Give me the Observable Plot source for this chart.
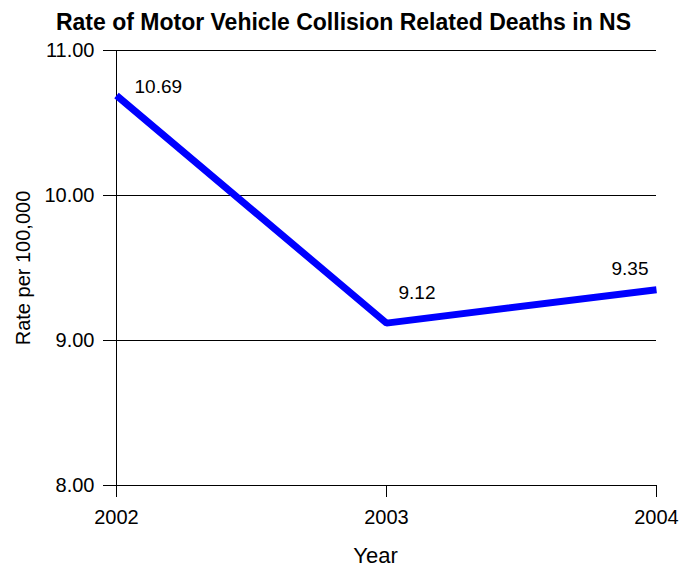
<!DOCTYPE html>
<html>
<head>
<meta charset="utf-8">
<script src="https://cdn.jsdelivr.net/npm/d3@7"></script>
<script src="https://cdn.jsdelivr.net/npm/@observablehq/plot@0.6"></script>
<style>
  html, body { margin: 0; padding: 0; background: #fff; }
  body { width: 687px; height: 569px; font-family: Arial, "Liberation Sans", sans-serif; overflow: hidden; }
  #title { height: 40px; line-height: 44px; text-align: center; font-weight: bold; font-size: 23px; color: #000; white-space: nowrap; }
</style>
</head>
<body>
<div id="title">Rate of Motor Vehicle Collision Related Deaths in NS</div>
<div id="chart"></div>
<script>
const years = [2002, 2003, 2004];
const rates = [10.69, 9.12, 9.35];
const yTicks = [8, 9, 10, 11];
const xLabel = "Year";
const yLabel = "Rate per 100,000";

const data = years.map((y, i) => ({year: y, rate: rates[i]}));
const fmt = d3.format(".2f");

const chart = Plot.plot({
  width: 687,
  height: 529,
  marginLeft: 116,
  marginRight: 31,
  marginTop: 10,
  marginBottom: 84,
  style: {fontFamily: "Arial, 'Liberation Sans', sans-serif", fontSize: "20px", color: "#000", background: "#fff"},
  x: {domain: [2002, 2004], ticks: years, tickFormat: d => String(d)},
  y: {domain: [8, 11], ticks: yTicks},
  marks: [
    Plot.ruleY(yTicks, {stroke: "#000", strokeWidth: 1}),
    Plot.ruleX([2002], {stroke: "#000", strokeWidth: 1}),
    Plot.axisX({ticks: years, tickFormat: d => String(d), tickSize: 12, tickPadding: 12, fontSize: 20, label: null, stroke: "#000"}),
    Plot.text([xLabel], {frameAnchor: "bottom", lineAnchor: "bottom", dx: -11, dy: 77, fontSize: 22, fill: "#000"}),
    Plot.axisY({ticks: yTicks, tickFormat: fmt, tickSize: 13, tickPadding: 9, fontSize: 20, label: yLabel, labelArrow: "none", labelAnchor: "center", labelOffset: 101, stroke: "#000"}),
    Plot.line(data, {x: "year", y: "rate", stroke: "#0000ff", strokeWidth: 7, strokeLinejoin: "miter", strokeLinecap: "butt"}),
    Plot.text(data.filter(d => d.year === 2002), {x: "year", y: "rate", text: d => fmt(d.rate), textAnchor: "start", dx: 18, dy: -9, fontSize: 19, fill: "#000"}),
    Plot.text(data.filter(d => d.year === 2003), {x: "year", y: "rate", text: d => fmt(d.rate), textAnchor: "start", dx: 12, dy: -30, fontSize: 19, fill: "#000"}),
    Plot.text(data.filter(d => d.year === 2004), {x: "year", y: "rate", text: d => fmt(d.rate), textAnchor: "end", dx: -8, dy: -21, fontSize: 19, fill: "#000"})
  ]
});
document.getElementById("chart").appendChild(chart);
</script>
</body>
</html>
